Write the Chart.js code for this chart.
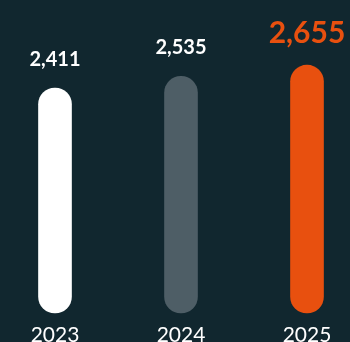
<!DOCTYPE html>
<html>
<head>
<meta charset="utf-8">
<script src="https://cdn.jsdelivr.net/npm/chart.js@4"></script>
<style>
  html, body { margin: 0; padding: 0; background: #11272f; }
  #wrap { width: 350px; height: 342px; position: relative; }
</style>
</head>
<body>
<div id="wrap"><canvas id="anosChart"></canvas></div>
<script>
const anos = ['2023', '2024', '2025'];
const totais = [2411, 2535, 2655];
const cores = ['#ffffff', '#4e5e66', '#e8500f'];
const coresRotulo = ['#ffffff', '#ffffff', '#e8500f'];
const tamanhosRotulo = [20, 20, 30];

// escreve o total em cima de cada barra e o ano embaixo
const rotulosPlugin = {
    id: 'rotulos',
    afterDatasetsDraw(chart) {
        const ctx = chart.ctx;
        const meta = chart.getDatasetMeta(0);
        const xScale = chart.scales.x;
        ctx.save();
        ctx.textAlign = 'center';
        meta.data.forEach((bar, i) => {
            ctx.font = `bold ${tamanhosRotulo[i]}px Lato, sans-serif`;
            ctx.fillStyle = coresRotulo[i];
            ctx.textBaseline = 'alphabetic';
            ctx.fillText(totais[i].toLocaleString('en-US'), bar.x, bar.y - 22);

            ctx.font = '21px Lato, sans-serif';
            ctx.fillStyle = '#ffffff';
            ctx.textBaseline = 'top';
            ctx.fillText(anos[i], xScale.getPixelForTick(i), chart.chartArea.bottom + 12);
        });
        ctx.restore();
    }
};

const ctx = document.getElementById('anosChart').getContext('2d');
new Chart(ctx, {
    type: 'bar',
    data: {
        labels: anos,
        datasets: [{
            data: totais,
            backgroundColor: cores,
            barThickness: 33,
            borderRadius: 17,
            borderSkipped: false,
            clip: false
        }]
    },
    options: {
        responsive: true,
        maintainAspectRatio: false,
        animation: false,
        layout: {
            padding: { left: 55, right: 43, top: 33, bottom: 29 }
        },
        plugins: {
            legend: { display: false },
            tooltip: { enabled: false }
        },
        scales: {
            x: {
                display: false,
                offset: false
            },
            y: {
                display: false,
                min: 0,
                max: 3000
            }
        }
    },
    plugins: [rotulosPlugin]
});
</script>
</body>
</html>
